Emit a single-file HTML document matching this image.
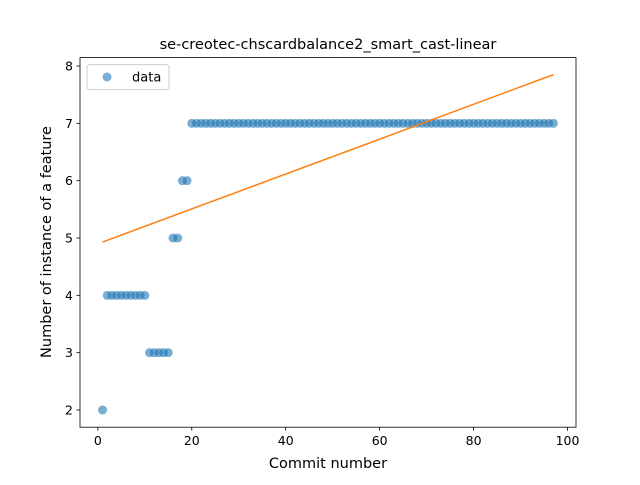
<!DOCTYPE html>
<html><head><meta charset="utf-8"><style>body{margin:0;background:#fff}svg{font-family:"DejaVu Sans","Liberation Sans",sans-serif}</style></head>
<body>
<svg id="chart" width="640" height="480">
<rect width="640" height="480" fill="#fff"/>
<text x="328" y="49" font-size="14.5" text-anchor="middle">se-creotec-chscardbalance2_smart_cast-linear</text>
<g id="plot"></g>
<rect x="80" y="57.6" width="496" height="369.6" fill="none" stroke="#000" stroke-width="0.8"/>
<text x="328" y="468" font-size="14.5" text-anchor="middle">Commit number</text>
<text transform="translate(51,242) rotate(-90)" font-size="14.5" text-anchor="middle">Number of instance of a feature</text>
<g>
<rect x="87" y="64.6" width="82" height="25" rx="3" fill="#fff" fill-opacity="0.8" stroke="#ccc"/>
<circle cx="107" cy="77" r="4.5" fill="#1f77b4" fill-opacity="0.6"/>
<text x="132" y="81.5" font-size="13">data</text>
</g>
</svg>
<script>
const levels = [2,4,4,4,4,4,4,4,4,4,3,3,3,3,3,5,5,6,6];
const tailValue = 7;
const tailCount = 78;
const fitStart = [1, 4.93];
const fitEnd = [97, 7.85];
const xTicks = [0,20,40,60,80,100];
const yTicks = [2,3,4,5,6,7,8];
const yVals = levels.concat(Array(tailCount).fill(tailValue));
const xVals = yVals.map((v,i)=>i+1);
const X0=80,X1=576,Y0=427.2,Y1=57.6;
const xmin=-3.8,xmax=101.8,ymin=1.70,ymax=8.147;
const sx=v=>X0+(v-xmin)/(xmax-xmin)*(X1-X0);
const sy=v=>Y0-(v-ymin)/(ymax-ymin)*(Y0-Y1);
const NS="http://www.w3.org/2000/svg";
const g=document.getElementById('plot');
function mk(t,a){const e=document.createElementNS(NS,t);for(const k in a)e.setAttribute(k,a[k]);g.appendChild(e);return e;}
xTicks.forEach(t=>{
  const l=mk('line',{x1:sx(t),x2:sx(t),y1:Y0,y2:Y0+3.5,stroke:'#000','stroke-width':0.8});
  
  
  const tx=mk('text',{x:sx(t),y:Y0+18,'font-size':12.5,'text-anchor':'middle'});tx.textContent=t;
  
  
});
yTicks.forEach(t=>{
  const l=mk('line',{x1:X0-3.5,x2:X0,y1:sy(t),y2:sy(t),stroke:'#000','stroke-width':0.8});
  
  
  const tx=mk('text',{x:X0-7,y:sy(t)+4.5,'font-size':12.5,'text-anchor':'end'});tx.textContent=t;
  
  
});
xVals.forEach((x,i)=>{
  const c=mk('circle',{cx:sx(x),cy:sy(yVals[i]),r:4.5,fill:'#1f77b4','fill-opacity':0.6});
  
  
});
const ln=mk('line',{x1:sx(fitStart[0]),y1:sy(fitStart[1]),x2:sx(fitEnd[0]),y2:sy(fitEnd[1]),stroke:'#ff7f0e','stroke-width':1.5});


</script>
</body></html>
